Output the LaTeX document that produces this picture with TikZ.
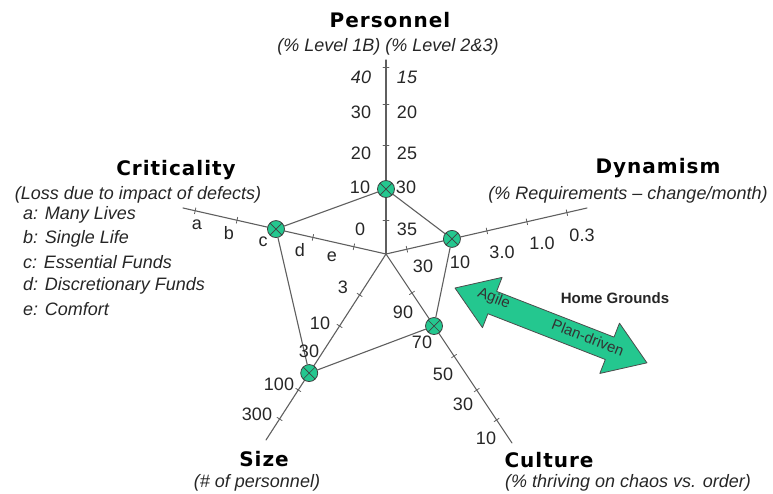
\documentclass[tikz,border=0pt]{standalone}
\usepackage{fontspec}
\setmainfont{Liberation Sans}
\newfontfamily\ttlfont{DejaVu Sans}[LetterSpace=5]
\usetikzlibrary{calc}
\definecolor{hgreen}{RGB}{36,199,143}
\definecolor{axgray}{RGB}{95,95,95}
\tikzset{
  ttl/.style={font=\ttlfont\bfseries\fontsize{20}{24}\selectfont, inner sep=0pt},
  sub/.style={font=\itshape\fontsize{18}{22}\selectfont, inner sep=0pt, text=black!85},
  num/.style={font=\fontsize{18}{22}\selectfont, inner sep=0pt, text=black!85},
  lst/.style={font=\itshape\fontsize{18}{22}\selectfont, inner sep=0pt, text=black!85, anchor=west},
  arrtxt/.style={font=\fontsize{15}{17}\selectfont, inner sep=0pt, text=black!80, rotate=-21.3},
  ax/.style={draw=axgray, line width=1.1pt},
  tk/.style={draw=axgray, line width=0.8pt},
  score/.style={circle, draw=black!75, line width=0.8pt, fill=hgreen, minimum size=17pt, inner sep=0pt,
    path picture={\draw[black!75, line width=0.7pt]
      (path picture bounding box.south west) -- (path picture bounding box.north east)
      (path picture bounding box.north west) -- (path picture bounding box.south east);}}
}
\begin{document}
\begin{tikzpicture}[x=1pt,y=-1pt,line join=round,line cap=round]
\useasboundingbox (0,0) rectangle (773,493);
% axes
\coordinate (o) at (386,254);
\coordinate (eP) at (386,60);
\coordinate (eC) at (183,208);
\coordinate (eD) at (587,208);
\coordinate (eS) at (266,440);
\coordinate (eU) at (512,443);
\foreach \e in {eP,eC,eD,eS,eU}
  \draw[ax] (o) -- (\e);
\foreach \e/\tl in {eP/{.175,.335,.562,.773,.964}, eC/{.158,.36,.734,.94},
    eD/{.104,.502,.701,.9}, eS/{.22,.387,.731,.887}, eU/{.206,.54,.72,.878}}
  \foreach \t in \tl
    \draw[tk] ($(o)!\t!(\e)!3pt!90:(\e)$) -- ($(o)!\t!(\e)!3pt!-90:(\e)$);
% ratings
\node[score] (mP) at ($(o)!.335!(eP)$) {};
\node[score] (mC) at ($(o)!.542!(eC)$) {};
\node[score] (mD) at ($(o)!.328!(eD)$) {};
\node[score] (mS) at ($(o)!.64!(eS)$) {};
\node[score] (mU) at ($(o)!.381!(eU)$) {};
\draw[ax] (mP) -- (mC);
\draw[ax] (mC) -- (mS);
\draw[ax] (mS) -- (mU);
\draw[ax] (mU) -- (mD);
\draw[ax] (mD) -- (mP);
% scale labels
\foreach \x/\y/\s [count=\i] in {361/77/{\itshape 40}, 361/112/30, 361/153/20, 360/187/10, 360/229/0}
  \node[num] (pl\i) at (\x,\y) {\s};
\foreach \x/\y/\s [count=\i] in {407/77/{\itshape 15}, 407/112/20, 407/153/25, 406/187/30, 407/229/35}
  \node[num] (pr\i) at (\x,\y) {\s};
\foreach \x/\y/\s [count=\i] in {197/225/a, 229/233/b, 263/242/c, 300/250/d, 332/257/e}
  \node[num] (cl\i) at (\x,\y) {\s};
\foreach \x/\y/\s [count=\i] in {423/266/30, 460/262/10, 502/252/3.0, 542/243/1.0, 582/235/0.3}
  \node[num] (dl\i) at (\x,\y) {\s};
\foreach \x/\y/\s [count=\i] in {403/312/90, 422/342/70, 443/374/50, 463/404/30, 486/438/10}
  \node[num] (ul\i) at (\x,\y) {\s};
\foreach \x/\y/\s [count=\i] in {343/287/3, 320/323/10, 309/351/30, 279/384/100, 257/414/300}
  \node[num] (sl\i) at (\x,\y) {\s};
% titles
\node[ttl] (tP) at (390,20) {Personnel};
\node[sub] (sP) at (388,47) {(\% Level 1B) (\% Level 2\&3)};
\node[ttl] (tC) at (176,170) {Criticality};
\node[sub] (sC) at (138,195) {(Loss due to impact of defects)};
\node[ttl] (tD) at (658,168) {Dynamism};
\node[sub] (sD) at (628,195) {(\% Requirements -- change/month)};
\node[ttl] (tS) at (264,459) {Size};
\node[sub] (sS) at (257,483) {(\# of personnel)};
\node[ttl] (tU) at (549,460) {Culture};
\node[sub] (sU) at (628,483) {(\% thriving on chaos vs. order)};
\foreach \s [count=\i] in {a: Many Lives, b: Single Life, c: Essential Funds,
    d: Discretionary Funds, e: Comfort}
  \node[lst] (cv\i) at (23,191+23.7*\i) {\s};
% home grounds
\node[font=\bfseries\fontsize{15}{17}\selectfont, inner sep=0pt, text=black!85] (hg) at (615,298) {Home Grounds};
\begin{scope}[shift={(455,288)}, rotate=-21.3]
  \draw[draw=black!70, line width=0.8pt, fill=hgreen] (0,0) -- (40,-27) -- (40,-12) -- (166,-12)
    -- (166,-27) -- (206,0) -- (166,27) -- (166,12) -- (40,12) -- (40,27) -- cycle;
  \node[arrtxt] (agile) at (40,-4) {Agile};
  \node[arrtxt] (plan) at (142,-2) {Plan-driven};
\end{scope}
\end{tikzpicture}
\end{document}
